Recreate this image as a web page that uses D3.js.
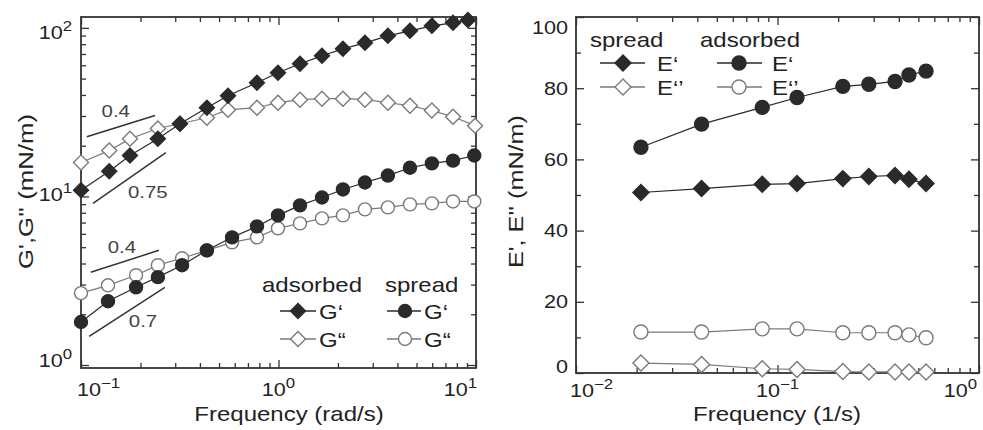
<!DOCTYPE html>
<html><head><meta charset="utf-8">
<script src="https://cdn.jsdelivr.net/npm/d3@7"></script>
<style>
body{margin:0;background:#fff}
svg{display:block}
text{font-family:"Liberation Sans",Arial,Helvetica,sans-serif;fill:#222}
</style>
</head><body><svg id="c" width="983" height="430"></svg>
<script>
// ---------- Left panel (shear) data ----------
const freqAdsorbedStorage = [0.1, 0.139, 0.177, 0.245, 0.317, 0.434, 0.555, 0.778, 0.994, 1.285, 1.66, 2.12, 2.74, 3.58, 4.63, 5.98, 7.65, 9.10];
const freqAdsorbedLoss    = [0.1, 0.139, 0.177, 0.245, 0.317, 0.434, 0.555, 0.778, 0.994, 1.285, 1.66, 2.12, 2.74, 3.58, 4.63, 5.98, 7.65, 9.89];
const freqSpread          = [0.1, 0.137, 0.190, 0.245, 0.325, 0.434, 0.582, 0.778, 0.994, 1.285, 1.66, 2.12, 2.74, 3.58, 4.63, 5.98, 7.65, 9.80];
const adsorbedGp  = [10.9, 14.1, 17.5, 22.0, 27.0, 33.6, 39.6, 47.3, 54.2, 61.2, 68.3, 75.1, 81.5, 89.7, 96.0, 102.8, 107.1, 111.5];
const adsorbedGpp = [15.9, 18.7, 22.0, 25.3, 27.0, 29.3, 32.7, 33.6, 36.0, 37.5, 38.0, 38.0, 37.5, 36.0, 34.5, 32.3, 29.7, 26.3];
const spreadGp    = [1.80, 2.39, 2.89, 3.32, 3.91, 4.79, 5.72, 6.64, 7.72, 8.85, 9.86, 11.0, 12.1, 13.3, 14.8, 15.7, 16.3, 17.5];
const spreadGpp   = [2.67, 2.97, 3.41, 3.91, 4.30, 4.79, 5.34, 5.72, 6.47, 6.92, 7.41, 7.72, 8.38, 8.61, 8.97, 9.09, 9.34, 9.34];

// slope guides (frequency, modulus)
const guideLabels   = ["0.4", "0.75", "0.4", "0.7"];
const guideStart    = [[0.107, 22.6], [0.115, 9.09], [0.112, 3.55], [0.110, 1.48]];
const guideEnd      = [[0.237, 30.2], [0.269, 18.2], [0.248, 4.79], [0.266, 2.89]];
const guideLabelPos = [[0.150, 32.3], [0.218, 10.6], [0.161, 4.99], [0.206, 1.82]];

// ---------- Right panel (dilatational) data ----------
const freqRight   = [0.021, 0.042, 0.084, 0.125, 0.211, 0.284, 0.383, 0.449, 0.546];
const spreadEp    = [50.7, 51.8, 53.0, 53.2, 54.6, 55.2, 55.5, 54.4, 53.2];
const spreadEpp   = [2.8, 2.4, 1.2, 1.0, 0.4, 0.3, 0.3, 0.3, 0.3];
const adsorbedEp  = [63.4, 69.9, 74.6, 77.4, 80.5, 81.1, 81.9, 83.7, 84.8];
const adsorbedEpp = [11.5, 11.5, 12.4, 12.4, 11.3, 11.3, 11.3, 10.7, 9.9];

// ---------- Axis ticks ----------
const leftXMajor = [0.1, 1, 10], leftXMajorExp = ["\u22121", "0", "1"];
const leftXMinor = [0.2,0.3,0.4,0.5,0.6,0.7,0.8,0.9,2,3,4,5,6,7,8,9];
const leftYMajor = [1, 10, 100], leftYMajorExp = ["0", "1", "2"];
const leftYMinor = [2,3,4,5,6,7,8,9,20,30,40,50,60,70,80,90];
const rightXMajor = [0.01, 0.1, 1], rightXMajorExp = ["\u22122", "\u22121", "0"];
const rightXMinor = [0.02,0.03,0.04,0.05,0.06,0.07,0.08,0.09,0.2,0.3,0.4,0.5,0.6,0.7,0.8,0.9];
const rightYMajor = [0, 20, 40, 60, 80, 100];
const rightYMinor = [10, 30, 50, 70, 90];

const svg = d3.select("#c");
const SX = 1.2;
const INK = "#2a2a2a", GREY = "#7a7a7a";

function stext(g, str, x, y, size, anchor) {
  const t = g.append("text")
    .attr("transform", `translate(${x},${y}) scale(${SX},1)`)
    .attr("text-anchor", anchor || "start")
    .style("font-size", size + "px");
  if (str !== null) t.text(str);
  return t;
}
function powLabel(g, exp, x, y, anchor) {
  const t = stext(g, null, x, y, 18, anchor);
  t.append("tspan").text("10");
  t.append("tspan").attr("dy", -8).style("font-size", "14px").text(exp);
  return t;
}
const diamond = r => `M0,${-r}L${r},0L0,${r}L${-r},0Z`;

function drawTicks(g, x, y, xMaj, xMin, yMaj, yMin) {
  const [x0, x1] = x.range(), [y0, y1] = y.range();
  const mk = (axisFn, scale, vals, len, tr) => {
    const a = g.append("g").attr("transform", tr)
      .call(axisFn(scale).tickValues(vals).tickSize(len).tickFormat(""));
    a.select(".domain").remove();
    a.selectAll("line").attr("stroke", "#333").attr("stroke-width", 1.3);
  };
  mk(d3.axisBottom, x, xMaj, -8, `translate(0,${y0})`);
  mk(d3.axisBottom, x, xMin, -5, `translate(0,${y0})`);
  mk(d3.axisTop, x, xMaj, -8, `translate(0,${y1})`);
  mk(d3.axisTop, x, xMin, -5, `translate(0,${y1})`);
  mk(d3.axisLeft, y, yMaj, -8, `translate(${x0},0)`);
  mk(d3.axisLeft, y, yMin, -5, `translate(${x0},0)`);
  mk(d3.axisRight, y, yMaj, -8, `translate(${x1},0)`);
  mk(d3.axisRight, y, yMin, -5, `translate(${x1},0)`);
  g.append("rect").attr("x", x0).attr("y", y1).attr("width", x1 - x0).attr("height", y0 - y1)
    .attr("fill", "none").attr("stroke", "#333").attr("stroke-width", 1.8);
}

function series(g, x, y, xs, ys, kind, filled, r) {
  const pts = xs.map((f, i) => [x(f), y(ys[i])]);
  g.append("path").attr("d", d3.line()(pts)).attr("fill", "none")
    .attr("stroke", filled ? INK : GREY).attr("stroke-width", 1.2);
  const s = g.append("g");
  pts.forEach(p => {
    if (kind === "d") {
      s.append("path").attr("d", diamond(r)).attr("transform", `translate(${p[0]},${p[1]})`)
        .attr("fill", filled ? INK : "#fff").attr("stroke", filled ? INK : GREY).attr("stroke-width", 1.4);
    } else {
      s.append("circle").attr("cx", p[0]).attr("cy", p[1]).attr("r", r)
        .attr("fill", filled ? INK : "#fff").attr("stroke", filled ? INK : GREY).attr("stroke-width", 1.4);
    }
  });
}
function legendItem(g, cx, cy, x1, x2, kind, filled, r, label, tx) {
  g.append("line").attr("x1", x1).attr("x2", x2).attr("y1", cy).attr("y2", cy)
    .attr("stroke", filled ? INK : GREY).attr("stroke-width", 1.3);
  if (kind === "d") g.append("path").attr("d", diamond(r)).attr("transform", `translate(${cx},${cy})`)
    .attr("fill", filled ? INK : "#fff").attr("stroke", filled ? INK : GREY).attr("stroke-width", 1.4);
  else g.append("circle").attr("cx", cx).attr("cy", cy).attr("r", r)
    .attr("fill", filled ? INK : "#fff").attr("stroke", filled ? INK : GREY).attr("stroke-width", 1.4);
  stext(g, label, tx, cy + 8, 20, "start");
}

// ================= LEFT PANEL =================
const gl = svg.append("g");
const xL = d3.scaleLog().domain([0.1, 10]).range([81, 476]);
const yL = d3.scaleLog().domain([0.96, 116]).range([368, 17]);
drawTicks(gl, xL, yL, leftXMajor, leftXMinor, leftYMajor, leftYMinor);

// slope guides
guideLabels.forEach((lab, i) => {
  gl.append("line")
    .attr("x1", xL(guideStart[i][0])).attr("y1", yL(guideStart[i][1]))
    .attr("x2", xL(guideEnd[i][0])).attr("y2", yL(guideEnd[i][1]))
    .attr("stroke", "#333").attr("stroke-width", 1.5);
  stext(gl, lab, xL(guideLabelPos[i][0]), yL(guideLabelPos[i][1]) + 6, 17, "middle").style("fill", "#444");
});

series(gl, xL, yL, freqSpread, spreadGpp, "c", false, 6.5);
series(gl, xL, yL, freqSpread, spreadGp, "c", true, 6.5);
series(gl, xL, yL, freqAdsorbedLoss, adsorbedGpp, "d", false, 7.5);
series(gl, xL, yL, freqAdsorbedStorage, adsorbedGp, "d", true, 7.5);

// tick labels
leftXMajor.forEach((v, i) => {
  const anchor = i === 0 ? "start" : (i === 2 ? "end" : "middle");
  const dx = i === 0 ? -4 : (i === 2 ? 1 : 0);
  powLabel(gl, leftXMajorExp[i], xL(v) + dx, 396, anchor);
});
const yLabShift = [-5, 2, 5];
leftYMajor.forEach((v, i) => {
  powLabel(gl, leftYMajorExp[i], 72, yL(v) + 6.5 + yLabShift[i] * (i === 1 ? -1 : 1) * (i === 0 ? 1 : 1), "end");
});
// axis titles
stext(gl, "Frequency (rad/s)", 289, 421, 20, "middle");
gl.append("text").attr("transform", "translate(33,191.5) rotate(-90)")
  .attr("text-anchor", "middle").style("font-size", "20px")
  .attr("textLength", 155).attr("lengthAdjust", "spacingAndGlyphs")
  .text("G',G'' (mN/m)");
// legend
stext(gl, "adsorbed", 262, 292, 20, "start");
stext(gl, "spread", 385, 292, 20, "start");
legendItem(gl, 298, 311, 280, 316, "d", true, 7.5, "G\u2018", 319);
legendItem(gl, 298, 339, 280, 316, "d", false, 7.5, "G\u201C", 319);
legendItem(gl, 405, 311, 387, 421, "c", true, 6.5, "G\u2018", 424);
legendItem(gl, 405, 339, 387, 421, "c", false, 6.5, "G\u201C", 424);

// ================= RIGHT PANEL =================
const gr = svg.append("g");
const xR = d3.scaleLog().domain([0.01, 1]).range([576, 979]);
const yR = d3.scaleLinear().domain([0, 100]).range([373, 17]);
drawTicks(gr, xR, yR, rightXMajor, rightXMinor, rightYMajor, rightYMinor);

series(gr, xR, yR, freqRight, adsorbedEpp, "c", false, 7);
series(gr, xR, yR, freqRight, spreadEpp, "d", false, 8);
series(gr, xR, yR, freqRight, adsorbedEp, "c", true, 7);
series(gr, xR, yR, freqRight, spreadEp, "d", true, 8);

rightXMajor.forEach((v, i) => {
  const anchor = i === 0 ? "start" : (i === 2 ? "end" : "middle");
  const dx = i === 0 ? -6 : (i === 2 ? -2 : 0);
  powLabel(gr, rightXMajorExp[i], xR(v) + dx, 397, anchor);
});
rightYMajor.forEach(v => {
  const shift = v === 100 ? 10 : (v === 0 ? -7 : 0);
  stext(gr, String(v), 568, yR(v) + 6.5 + shift, 18, "end");
});
stext(gr, "Frequency (1/s)", 777, 421, 20, "middle");
gr.append("text").attr("transform", "translate(523,191.5) rotate(-90)")
  .attr("text-anchor", "middle").style("font-size", "20px")
  .attr("textLength", 153).attr("lengthAdjust", "spacingAndGlyphs")
  .text("E', E'' (mN/m)");
stext(gr, "spread", 590, 47, 20, "start");
stext(gr, "adsorbed", 700, 47, 20, "start");
legendItem(gr, 623, 63, 600, 645, "d", true, 8, "E\u2018", 657);
legendItem(gr, 623, 87, 600, 645, "d", false, 8, "E\u2018\u2019", 657);
legendItem(gr, 739, 63, 717, 762, "c", true, 7, "E\u2018", 772);
legendItem(gr, 739, 87, 717, 762, "c", false, 7, "E\u2018\u2019", 772);
</script>
</body></html>
